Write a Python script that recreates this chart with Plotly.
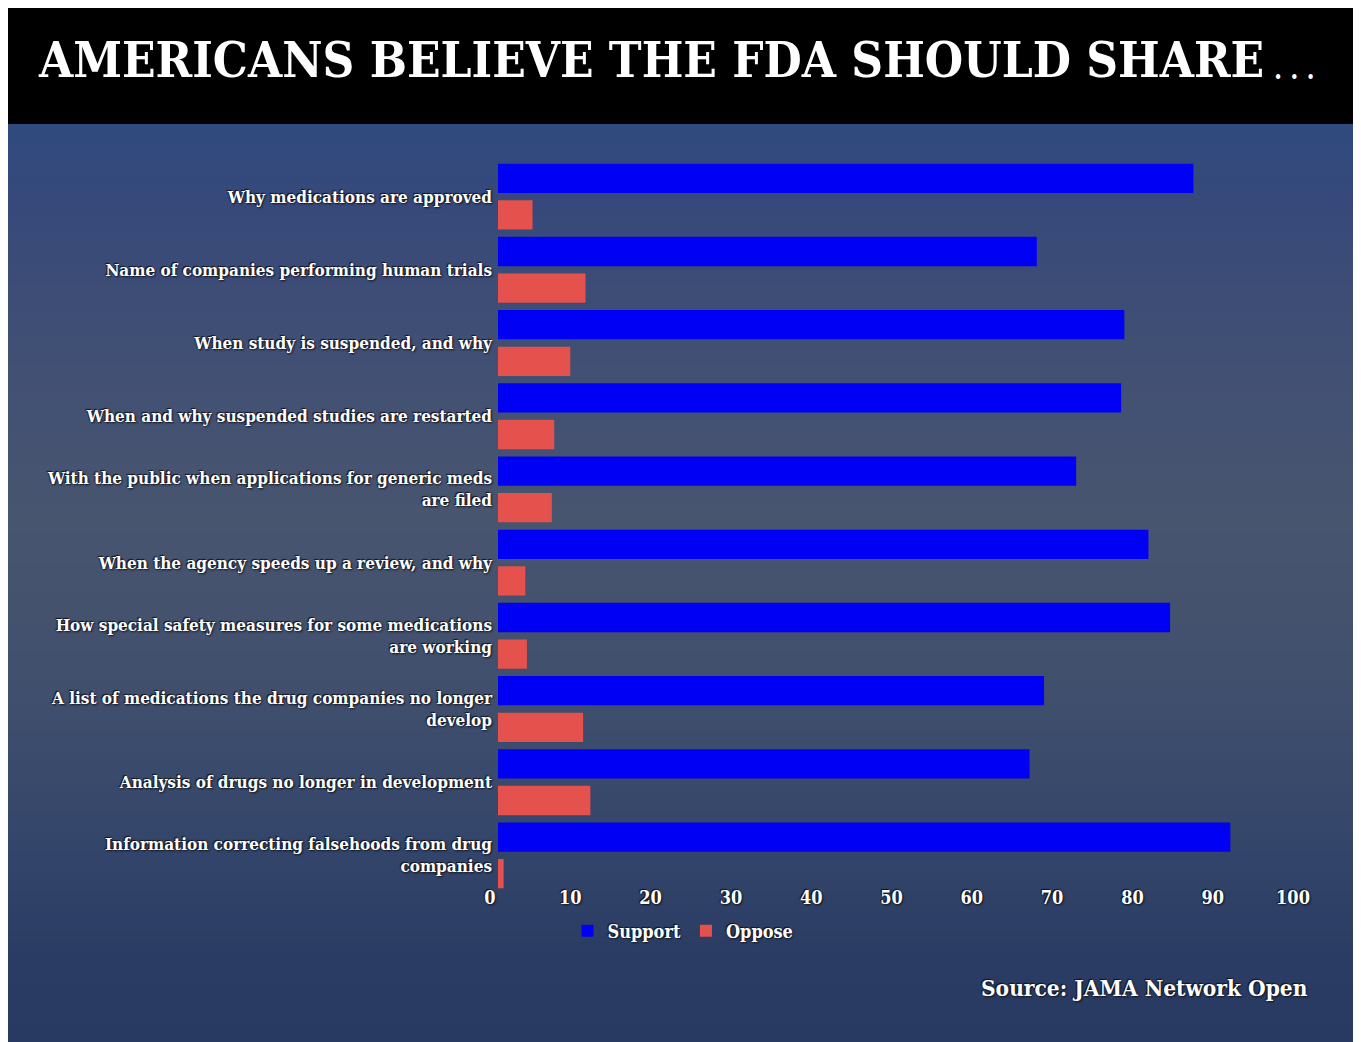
import plotly.graph_objects as go

# ---- data ----
categories = [
    "Why medications are approved",
    "Name of companies performing human trials",
    "When study is suspended, and why",
    "When and why suspended studies are restarted",
    "With the public when applications for generic meds<br>are filed",
    "When the agency speeds up a review, and why",
    "How special safety measures for some medications<br>are working",
    "A list of medications the drug companies no longer<br>develop",
    "Analysis of drugs no longer in development",
    "Information correcting falsehoods from drug<br>companies",
]
support = [86.6, 67.1, 78.0, 77.6, 72.0, 81.0, 83.7, 68.0, 66.2, 91.2]
oppose = [4.3, 10.9, 9.0, 7.0, 6.7, 3.4, 3.6, 10.6, 11.5, 0.7]
x_ticks = [0, 10, 20, 30, 40, 50, 60, 70, 80, 90, 100]
series_names = ["Support", "Oppose"]
title_text = "AMERICANS BELIEVE THE FDA SHOULD SHARE"
source_text = "Source: JAMA Network Open"

# ---- layout geometry (page has an 8px body margin) ----
OFF = 8
W, H = 1361 - OFF, 1042 - OFF
# plot area in page pixels: x 498..1301, y 160..892
ML, MR, MT, MB = 498 - OFF, 1361 - 1301, 160 - OFF, 1042 - 892
PW, PH = W - ML - MR, H - MT - MB


def px2x(px):  # page px -> paper x
    return (px - OFF - ML) / PW


def px2y(py):  # page px -> paper y
    return (H - MB - (py - OFF)) / PH


FONT = "DejaVu Serif Condensed, DejaVu Serif, serif"
SHADOW = "1px 1px 2px #10131c, -1px -1px 1px #10131c"

fig = go.Figure()
fig.add_trace(go.Bar(name=series_names[0], y=categories, x=support, orientation="h",
                     marker=dict(color="#0000f4", line=dict(width=0))))
fig.add_trace(go.Bar(name=series_names[1], y=categories, x=oppose, orientation="h",
                     marker=dict(color="#e5514d", line=dict(width=0))))

# ---- background gradient (style only) ----
stops = [(124, (0x30, 0x4a, 0x7e)), (200, (0x36, 0x49, 0x7a)), (350, (0x41, 0x4f, 0x74)),
         (520, (0x48, 0x55, 0x6f)), (700, (0x40, 0x4f, 0x6d)), (850, (0x33, 0x45, 0x6a)),
         (960, (0x2a, 0x3c, 0x63)), (1042, (0x28, 0x3a, 0x61))]


def col_at(py):
    for (y0, c0), (y1, c1) in zip(stops[:-1], stops[1:]):
        if y0 <= py <= y1:
            t = (py - y0) / (y1 - y0)
            return "rgb(%d,%d,%d)" % tuple(round(a + (b - a) * t) for a, b in zip(c0, c1))
    return "rgb(%d,%d,%d)" % stops[-1][1]


shapes = []
n = 92
top, bot = 124, 1042
step = (bot - top) / n
for i in range(n):
    y0 = top + i * step
    y1 = y0 + step + 0.8
    shapes.append(dict(type="rect", xref="paper", yref="paper", layer="below",
                       x0=px2x(OFF - 2), x1=px2x(1361 + 2), y0=px2y(min(y1, bot + 2)), y1=px2y(y0),
                       fillcolor=col_at(y0 + step / 2), line=dict(width=0)))
# black title band
shapes.append(dict(type="rect", xref="paper", yref="paper", layer="below",
                   x0=px2x(OFF - 2), x1=px2x(1361 + 2), y0=px2y(124), y1=px2y(OFF - 2),
                   fillcolor="#000000", line=dict(width=0)))

annotations = [
    dict(text=title_text, xref="paper", yref="paper", x=px2x(36), y=px2y(60),
         xanchor="left", yanchor="middle", showarrow=False,
         font=dict(family=FONT, size=49, color="white", weight="bold")),
    dict(text=". . .", xref="paper", yref="paper", x=px2x(1272), y=px2y(70),
         xanchor="left", yanchor="middle", showarrow=False,
         font=dict(family=FONT, size=26, color="white", weight="bold")),
    dict(text=source_text, xref="paper", yref="paper", x=px2x(1310), y=px2y(988),
         xanchor="right", yanchor="middle", showarrow=False,
         font=dict(family=FONT, size=22.5, color="white", weight="bold", shadow=SHADOW)),
]

fig.update_layout(
    width=W, height=H,
    margin=dict(l=ML, r=MR, t=MT, b=MB, pad=0),
    paper_bgcolor="white", plot_bgcolor="rgba(0,0,0,0)",
    barmode="group", bargap=0.0, bargroupgap=0.2,
    shapes=shapes, annotations=annotations,
    showlegend=True,
    legend=dict(orientation="h", x=px2x(683), y=px2y(931), xanchor="center", yanchor="middle",
                bgcolor="rgba(0,0,0,0)", itemwidth=30,
                font=dict(family=FONT, size=18, color="white", weight="bold", shadow=SHADOW)),
    font=dict(family=FONT),
)
fig.update_xaxes(range=[0, 100], tickvals=x_ticks, ticktext=[str(v) for v in x_ticks],
                 showgrid=False, zeroline=False, showline=False, ticks="",
                 ticklabelshift=-8, ticklabelstandoff=-7,
                 tickfont=dict(family=FONT, size=18, color="white", weight="bold", shadow=SHADOW))
fig.update_yaxes(autorange="reversed", showgrid=False, zeroline=False, showline=False, ticks="",
                 ticklabelstandoff=5,
                 tickfont=dict(family=FONT, size=17, color="white", weight="bold", shadow=SHADOW))

fig.write_html("out.html")
